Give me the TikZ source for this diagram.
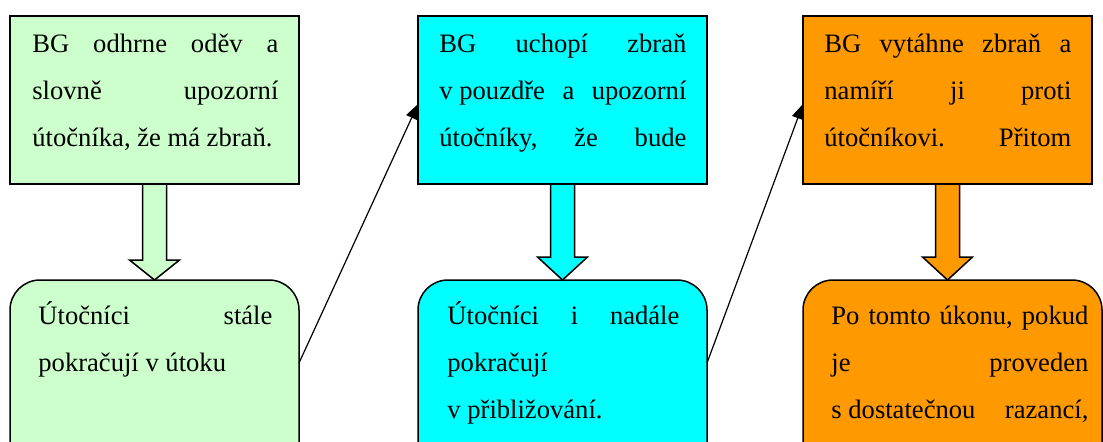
\documentclass[tikz,border=0pt]{standalone}
\usepackage{fontspec}
\setmainfont{Liberation Serif}
\usetikzlibrary{calc,arrows.meta}
\definecolor{cgreen}{HTML}{CCFFCC}
\definecolor{ccyan}{HTML}{00FFFF}
\definecolor{corange}{HTML}{FF9900}
\newcommand\jline[1]{\hbox to \linewidth{#1}}
\newcommand\boxtext[2]{\parbox[t]{#1}{\fontsize{13.3pt}{23.5pt}\selectfont\parindent0pt #2}}
\newcommand\blockarrow[4]{%
  \draw[barrow,fill=#4] ($(#1.south)+(-12,0)$) -- ($(#1.south)+(12,0)$)
    -- ($(#1.south |- #2.north)+(12,-#3)$) -- ($(#1.south |- #2.north)+(25,-#3)$)
    -- (#1.south |- #2.north) -- ($(#1.south |- #2.north)+(-25,-#3)$)
    -- ($(#1.south |- #2.north)+(-12,-#3)$) -- cycle;}
\begin{document}
\begin{tikzpicture}[x=0.5pt,y=-0.5pt,
  box/.style={draw=black,line width=0.75pt,minimum width=144.5pt,minimum height=84pt,inner sep=0pt,outer sep=0pt},
  rbox/.style={box,rounded corners=15pt,minimum height=100pt},
  tx/.style={anchor=base west,inner sep=0pt},
  link/.style={line width=0.6pt,-{Triangle[length=7.5pt,width=6pt]}},
  barrow/.style={draw=black,line width=0.75pt}]
\useasboundingbox (0,0) rectangle (1103,441);
\clip (0,0) rectangle (1103,441);
% boxes
\node[box,fill=cgreen] (b1) at (154.5,100) {};
\node[box,fill=ccyan] (b2) at (562.5,100) {};
\node[box,fill=corange] (b3) at (947.5,100) {};
\node[rbox,fill=cgreen] (r1) at (154.5,380) {};
\node[rbox,fill=ccyan] (r2) at (562.5,380) {};
\node[rbox,fill=corange,minimum width=149.5pt] (r3) at (952.5,380) {};
% block arrows
\blockarrow{b1}{r1}{20}{cgreen}
\blockarrow{b2}{r2}{23}{ccyan}
\blockarrow{b3}{r3}{23}{corange}
% connectors
\coordinate (y1) at (0,363);
\coordinate (y2) at (0,104);
\draw[link] (r1.east |- y1) -- (b2.west |- y2);
\draw[link] (r2.east |- y1) -- (b3.west |- y2);
% texts
\node[tx] (t1) at (32,52) {\boxtext{123pt}{%
  \jline{BG\hfill odhrne\hfill oděv\hfill a}
  \jline{slovně\hfill upozorní}
  \jline{útočníka, že má zbraň.\hfill}}};
\node[tx] (t2) at (439,52) {\boxtext{123.5pt}{%
  \jline{BG\hfill uchopí\hfill zbraň}
  \jline{v~pouzdře\hfill a\hfill upozorní}
  \jline{útočníky,\hfill že\hfill bude}}};
\node[tx] (t3) at (824,52) {\boxtext{123.5pt}{%
  \jline{BG\hfill vytáhne\hfill zbraň\hfill a}
  \jline{namíří\hfill ji\hfill proti}
  \jline{útočníkovi.\hfill Přitom}}};
\node[tx] (t4) at (38,324) {\boxtext{117pt}{%
  \jline{Útočníci\hfill stále}
  \jline{pokračují v útoku\hfill}}};
\node[tx] (t5) at (447,324) {\boxtext{116pt}{%
  \jline{Útočníci\hfill i\hfill nadále}
  \jline{pokračují\hfill}
  \jline{v~přibližování.\hfill}}};
\node[tx] (t6) at (831,324) {\boxtext{128.5pt}{%
  \jline{Po\hfill tomto\hfill úkonu,\hfill pokud}
  \jline{je\hfill proveden}
  \jline{s~dostatečnou\hfill razancí,}}};
\end{tikzpicture}
\end{document}
